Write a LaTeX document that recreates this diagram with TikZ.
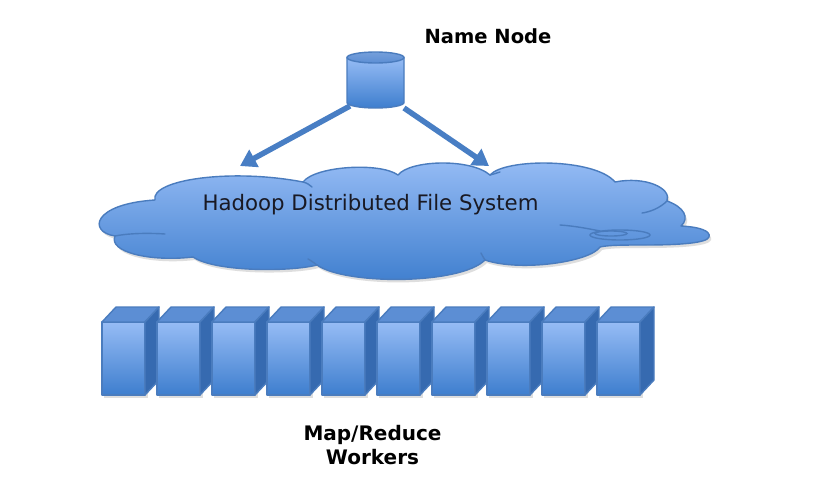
\documentclass[tikz,border=0pt]{standalone}
\usepackage{fontspec}
\setmainfont{DejaVu Sans}
\usetikzlibrary{arrows.meta}
\definecolor{lightb}{RGB}{150,188,245}
\definecolor{darkb}{RGB}{62,126,206}
\definecolor{edgeb}{RGB}{74,124,190}
\definecolor{topb}{RGB}{92,142,212}
\definecolor{sideb}{RGB}{54,106,176}
\definecolor{arrowb}{RGB}{72,126,196}
\definecolor{txt}{RGB}{25,25,35}
\tikzset{
  edgeline/.style={draw=edgeb,line width=1.4pt,line join=round},
  frontface/.style={edgeline,top color=lightb,bottom color=darkb},
  topface/.style={edgeline,fill=topb},
  sideface/.style={edgeline,fill=sideb},
  shadowfill/.style={fill=black!25,opacity=0.5},
  feed/.style={draw=arrowb,line width=5.5pt,-{Triangle[length=16pt,width=19pt]}},
  innerline/.style={draw=edgeb,line width=1.4pt,line cap=round},
  lbl/.style={inner sep=0pt,align=center,text=txt}
}
\begin{document}
\begin{tikzpicture}[x=1pt,y=-1pt]
\useasboundingbox (0,0) rectangle (839,482);
\fill[white] (0,0) rectangle (839,482);
% ---------- cloud ----------
\def\cloudpath{(115,236) .. controls (88,232) and (92,204) .. (155,200)
  .. controls (150,180) and (230,168) .. (303,182)
  .. controls (315,166) and (380,162) .. (398,175)
  .. controls (410,160) and (470,158) .. (490,175)
  .. controls (505,158) and (595,158) .. (615,182)
  .. controls (645,176) and (672,188) .. (667,201)
  .. controls (684,207) and (690,218) .. (681,226)
  .. controls (700,227) and (711,231) .. (709,237)
  .. controls (707,243) and (680,245) .. (645,245)
  .. controls (625,245) and (608,245) .. (600,247)
  .. controls (590,262) and (520,272) .. (485,260)
  .. controls (460,285) and (345,285) .. (317,265)
  .. controls (290,272) and (215,272) .. (193,257)
  .. controls (150,262) and (108,252) .. (115,236) -- cycle}
\fill[shadowfill,shift={(2,3)}] \cloudpath;
\path[edgeline,top color=lightb,bottom color=darkb] \cloudpath;
\draw[innerline] (115,236) .. controls (130,233) and (150,233) .. (165,234);
\draw[innerline] (667,201) .. controls (660,208) and (650,212) .. (642,213);
\draw[innerline] (560,225) .. controls (575,226) and (590,229) .. (600,231);
\draw[innerline] (303,182) .. controls (307,183) and (310,185) .. (312,187);
\draw[innerline] (490,175) .. controls (494,174) and (497,173) .. (500,172);
\draw[innerline] (317,265) .. controls (313,262) and (310,260) .. (308,259);
\draw[innerline] (485,260) .. controls (483,257) and (482,255) .. (481,253);
\draw[innerline] (620,235) ellipse [x radius=30,y radius=5];
\draw[innerline] (611,233.5) ellipse [x radius=16,y radius=2.5];
\node[lbl,font=\fontsize{21.3}{25}\selectfont] (hdfs) at (370.5,205) {Hadoop Distributed File System};
% ---------- name node cylinder ----------
\path[frontface] (347,57.5) -- (347,102.5) arc[start angle=180,end angle=0,x radius=28.5,y radius=5.5] -- (404,57.5) -- cycle;
\path[edgeline,top color=topb!85!white,bottom color=topb] (375.5,57.5) ellipse [x radius=28.5,y radius=5.5];
\node[inner sep=0pt,minimum width=57pt,minimum height=56pt] (namenode) at (375.5,80) {};
\coordinate (cylL) at (350,106);
\coordinate (cylR) at (404,108);
\coordinate (tipL) at (240,166);
\coordinate (tipR) at (489,166);
\draw[feed] (cylL) -- (tipL);
\draw[feed] (cylR) -- (tipR);
\node[lbl,font=\bfseries\fontsize{19.5}{23}\selectfont,text=black] (nnlabel) at (488,36) {Name Node};
% ---------- workers ----------
\foreach \i in {0,...,9}{
  \pgfmathsetmacro{\xa}{102+55*\i}
  \fill[shadowfill] (\xa+2,324) rectangle (\xa+46,398);
  \path[frontface] (\xa,322) rectangle (\xa+43,395);
  \path[topface] (\xa,322) -- (\xa+14,307) -- (\xa+57,307) -- (\xa+43,322) -- cycle;
  \path[sideface] (\xa+43,322) -- (\xa+57,307) -- (\xa+57,380) -- (\xa+43,395) -- cycle;
  \node[inner sep=0pt,minimum width=57pt,minimum height=88pt] (w\i) at (\xa+28.5,351) {};
}
\node[lbl,font=\bfseries\fontsize{20}{24}\selectfont,text=black] (mrlabel) at (372.5,445) {Map/Reduce\\Workers};
\end{tikzpicture}
\end{document}
